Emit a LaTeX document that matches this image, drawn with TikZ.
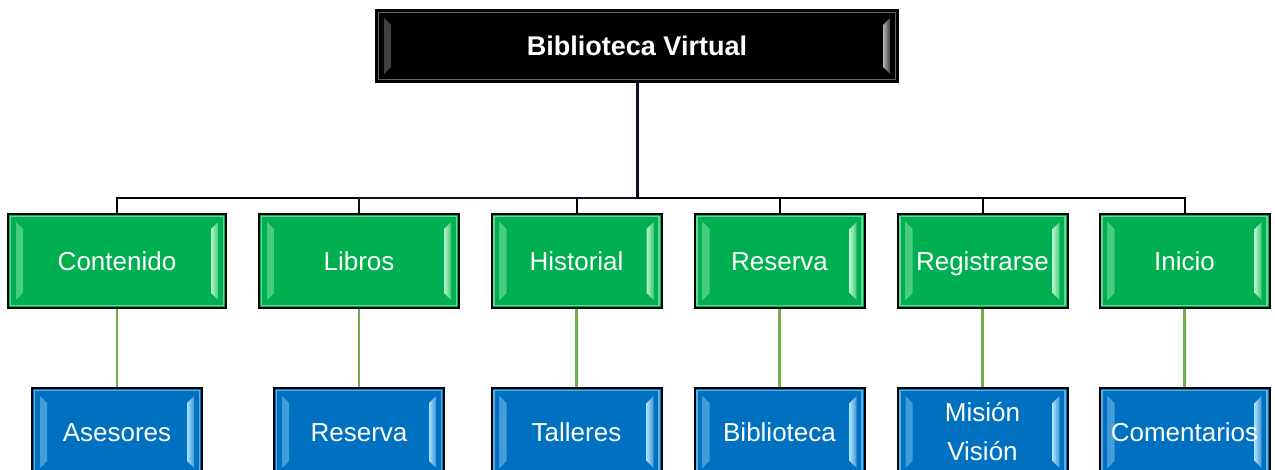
\documentclass[tikz,border=0pt]{standalone}
\usepackage{fontspec}
\setmainfont{Liberation Sans}
\usetikzlibrary{calc}

\definecolor{verdecaja}{HTML}{00B050}
\definecolor{verdeluz}{HTML}{B8F7CC}
\definecolor{azulcaja}{HTML}{0070C0}
\definecolor{azulluz}{HTML}{A8E2FF}
\definecolor{grisluz}{HTML}{B4B4B4}
\definecolor{lineaverde}{HTML}{70AD47}
\definecolor{marino}{HTML}{0A0F2A}

% puntal invisible para centrar el texto igual en todas las cajas
\newcommand{\puntal}{\rule[-2.6pt]{0pt}{14.6pt}}

\tikzset{
  bisel/.style 2 args={path picture={
      \shade[left color=#2!35!#1, right color=#2]
        ($(path picture bounding box.north west)+(4pt,-4pt)$) -- ($(path picture bounding box.north west)+(7.5pt,-7.5pt)$)
        -- ($(path picture bounding box.south west)+(7.5pt,7.5pt)$) -- ($(path picture bounding box.south west)+(4pt,4pt)$) -- cycle;
      \shade[left color=#2, right color=#2!35!#1]
        ($(path picture bounding box.north east)+(-4pt,-4pt)$) -- ($(path picture bounding box.north east)+(-7.5pt,-7.5pt)$)
        -- ($(path picture bounding box.south east)+(-7.5pt,7.5pt)$) -- ($(path picture bounding box.south east)+(-4pt,4pt)$) -- cycle;
      \draw [line width=0.7pt, color=#2!55!#1]
        ($(path picture bounding box.north west)+(1.3pt,-1.3pt)$) rectangle ($(path picture bounding box.south east)+(-1.3pt,1.3pt)$);
  }},
  caja/.style={draw=black, line width=1pt, inner sep=0pt, text=white, align=center,
    font=\fontsize{13}{19.5}\selectfont, minimum width=85pt, minimum height=47pt},
  verde/.style={caja, fill=verdecaja, bisel={verdecaja}{verdeluz}},
  azul/.style={caja, fill=azulcaja, bisel={azulcaja}{azulluz}, minimum height=44pt},
  titulo/.style={caja, fill=black, bisel={black}{grisluz}, minimum width=261pt, minimum height=36pt,
    font=\fontsize{13.5}{16}\selectfont\bfseries},
}

\begin{document}
\begin{tikzpicture}[x=0.5pt, y=-0.5pt]
      \useasboundingbox (0,0) rectangle (1275,470);
      % raiz
      \node [titulo] (bv) at (637,46) {\puntal Biblioteca Virtual};
      % primer nivel
      \node [verde, minimum width=109pt] (cont) at (117,261) {\puntal Contenido};
      \node [verde, minimum width=100pt] (libros) at (359,261) {\puntal Libros};
      \node [verde] (hist) at (576.5,261) {\puntal Historial};
      \node [verde] (reserva) at (779.5,261) {\puntal Reserva};
      \node [verde] (regis) at (982.5,261) {\puntal Registrarse};
      \node [verde] (inicio) at (1184.5,261) {\puntal Inicio};
      % segundo nivel
      \node [azul] (ases) at (117,432) {\puntal Asesores};
      \node [azul] (resb) at (359,432) {\puntal Reserva};
      \node [azul] (talleres) at (576.5,432) {\puntal Talleres};
      \node [azul] (biblio) at (779.5,432) {\puntal Biblioteca};
      \node [azul] (mision) at (982.5,432) {\puntal Misión\\\puntal Visión};
      \node [azul] (coment) at (1184.5,432) {\puntal Comentarios};
      % conectores
      \coordinate (bus) at (637,198);
      \foreach \n in {cont,hist,reserva,regis,inicio}
        \draw [line width=1pt] (\n.north) |- (bus);
      \draw [line width=1pt, color=marino] (libros.north) |- (bus);
      \draw [line width=1.5pt, color=marino] (bv.south) -- (bus);
      \foreach \a/\b in {cont/ases, libros/resb, hist/talleres, reserva/biblio, regis/mision, inicio/coment}
        \draw [line width=1.3pt, color=lineaverde] (\a.south) -- (\b.north);
\end{tikzpicture}
\end{document}
